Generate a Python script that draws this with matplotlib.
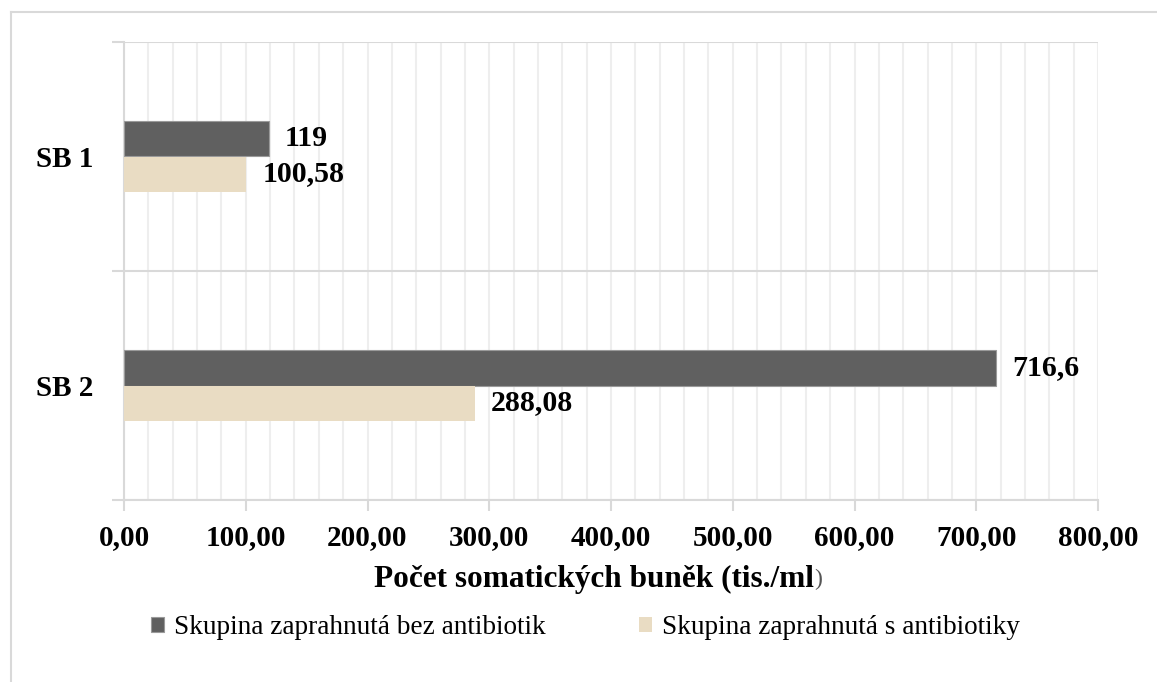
import matplotlib
matplotlib.use("Agg")
import matplotlib.pyplot as plt
import numpy as np
from matplotlib.ticker import MultipleLocator, FixedLocator
from matplotlib.lines import Line2D

# Data
skupiny = ["SB 1", "SB 2"]
bez_antibiotik = [119, 716.6]
s_antibiotiky = [100.58, 288.08]
nazvy_rad = ["Skupina zaprahnutá bez antibiotik", "Skupina zaprahnutá s antibiotiky"]
x_ticks = [0, 100, 200, 300, 400, 500, 600, 700, 800]

barva_tmava = "#606060"
barva_svetla = "#e9dcc3"
seda_os = "#d9d9d9"
seda_mrizka = "#eeeeee"

plt.rcParams["font.family"] = ["Liberation Serif", "DejaVu Serif"]

W, H = 1157, 682
fig = plt.figure(figsize=(W / 100, H / 100), dpi=100)
ax = fig.add_axes([124 / W, 1 - 500 / H, (1098 - 124) / W, (500 - 42) / H])

y = np.arange(len(skupiny))
h = 0.153
b1 = ax.barh(y - h / 2, bez_antibiotik, height=h, color=barva_tmava,
             edgecolor="#9a9a9a", linewidth=0.8, label=nazvy_rad[0], zorder=3)
b2 = ax.barh(y + h / 2, s_antibiotiky, height=h, color=barva_svetla,
             linewidth=0, label=nazvy_rad[1], zorder=3)

fmt = lambda v: f"{v:g}".replace(".", ",")
for bars in (b1, b2):
    ax.bar_label(bars, labels=[fmt(v) for v in bars.datavalues], padding=11.5,
                 fontsize=21.5, fontweight="bold", color="black")

# osy
ax.set_xlim(0, 800)
ax.set_ylim(1.5, -0.5)
ax.set_xticks(x_ticks)
ax.set_xticklabels([f"{t:.2f}".replace(".", ",") for t in x_ticks],
                   fontsize=21, fontweight="bold")
ax.xaxis.set_minor_locator(MultipleLocator(20))
ax.set_yticks(y)
ax.set_yticklabels(skupiny, fontsize=21, fontweight="bold")
ax.yaxis.set_minor_locator(FixedLocator([-0.5, 0.5, 1.5]))

ax.tick_params(axis="x", which="major", length=8, width=1.5, color=seda_os, pad=9)
ax.tick_params(axis="x", which="minor", length=0)
ax.tick_params(axis="y", which="major", length=0, pad=22)
ax.tick_params(axis="y", which="minor", length=9, width=1.5, color=seda_os)

ax.grid(axis="x", which="both", color=seda_mrizka, linewidth=1.5, zorder=0)
ax.grid(axis="y", which="minor", color=seda_os, linewidth=1.5, zorder=1)
ax.set_axisbelow(True)

for s in ("top", "right"):
    ax.spines[s].set_visible(False)
for s in ("left", "bottom"):
    ax.spines[s].set_color(seda_os)
    ax.spines[s].set_linewidth(1.5)

# popisek osy x (poslední závorka je tenká)
t = fig.text(594 / W, 1 - 579 / H, "Počet somatických buněk (tis./ml", fontsize=22.5,
             fontweight="bold", ha="center", va="center")
fig.canvas.draw()
bb = t.get_window_extent()
fig.text(bb.x1 / W, 1 - 579 / H, ")", fontsize=17, color="#555555",
         ha="left", va="center")

# legenda
fig.legend(handles=[b1, b2], labels=nazvy_rad, loc="center",
           bbox_to_anchor=(0.5 * (153 + 1018) / W, 1 - 628 / H), ncol=2,
           frameon=False, fontsize=19.6, handlelength=0.48, handleheight=0.48,
           handletextpad=0.35, columnspacing=3.45)

# rámeček grafu (vlevo a nahoře)
fig.add_artist(Line2D([11 / W, 11 / W], [0, 1 - 12 / H], color=seda_os, linewidth=1.5))
fig.add_artist(Line2D([11 / W, 1], [1 - 12 / H, 1 - 12 / H], color=seda_os, linewidth=1.5))

fig.savefig("out.png", dpi=100)
